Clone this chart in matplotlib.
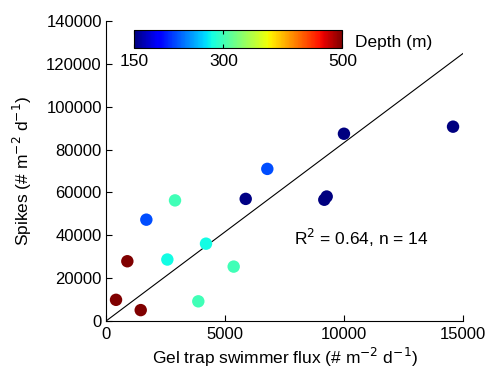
import matplotlib
matplotlib.use("Agg")
import matplotlib.pyplot as plt
import numpy as np

plt.rcParams['font.family'] = ['Liberation Sans', 'DejaVu Sans']

# Data
flux = [5865, 6772, 9165, 9265, 2897, 1693, 4198, 2575, 895, 5360, 420, 3875, 1457, 9990, 14570]
spikes = [57000, 71000, 56600, 58100, 56300, 47300, 36100, 28700, 27900, 25400, 9900, 9200, 5100, 87400, 90700]
depth = [152, 220, 150, 150, 300, 220, 281, 281, 500, 300, 500, 300, 500, 150, 150]
fit_slope = 8.33
fit_x = [0, 15000]
x_ticks = [0, 5000, 10000, 15000]
y_ticks = [0, 20000, 40000, 60000, 80000, 100000, 120000, 140000]
cbar_ticks = [150, 300, 500]
annotation = "R$^2$ = 0.64, n = 14"

fig = plt.figure(figsize=(4.89, 3.72), dpi=100)
ax = fig.add_axes([0.2168, 0.137, 0.7306, 0.8065])

sc = ax.scatter(flux, spikes, c=depth, cmap='jet', vmin=150, vmax=500,
                s=80, edgecolors='none', zorder=3)
ax.plot(fit_x, [fit_slope * v for v in fit_x], color='black', lw=0.8, zorder=2)

ax.set_xlim(0, 15000)
ax.set_ylim(0, 140000)
ax.set_xticks(x_ticks)
ax.set_yticks(y_ticks)
ax.spines['top'].set_visible(False)
ax.spines['right'].set_visible(False)
ax.tick_params(direction='in', labelsize=12, length=4, width=0.8)
ax.tick_params(axis='x', pad=4)
ax.tick_params(axis='y', pad=3)
ax.set_xlabel("Gel trap swimmer flux (# m$^{-2}$ d$^{-1}$)", fontsize=12.5, labelpad=3)
ax.set_ylabel("Spikes (# m$^{-2}$ d$^{-1}$)", fontsize=12.5, labelpad=9)
ax.text(7900, 39000, annotation, fontsize=12.5, ha='left', va='center')

cax = fig.add_axes([0.2746, 0.871, 0.4254, 0.048])
cb = fig.colorbar(sc, cax=cax, orientation='horizontal', ticks=cbar_ticks)
cb.ax.tick_params(direction='in', labelsize=12.5, length=3, pad=4, top=True)
cb.outline.set_linewidth(0.8)
fig.text(355 / 489, 1 - 42 / 372, "Depth (m)", fontsize=12.5, ha='left', va='center')

fig.savefig("out.png", dpi=100)
